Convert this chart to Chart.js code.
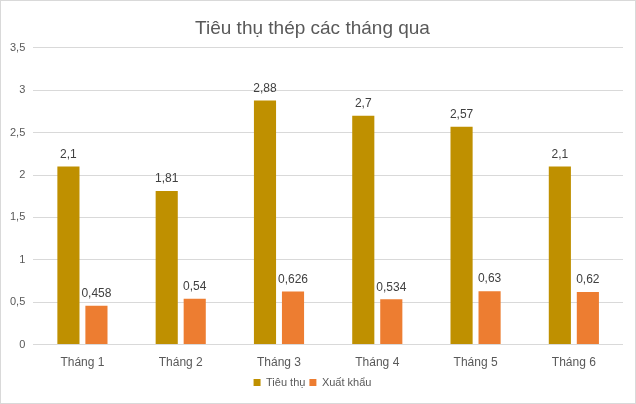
<!DOCTYPE html>
<html>
<head>
<meta charset="utf-8">
<script src="https://cdn.jsdelivr.net/npm/chart.js@4.4.0/dist/chart.umd.min.js"></script>
<style>
    html, body { margin: 0; padding: 0; background: #fff; }
    .wrap { width: 636px; height: 404px; box-sizing: border-box; border: 1px solid #d9d9d9; }
</style>
</head>
<body>
<div class="wrap"><canvas id="steelChart" width="634" height="402"></canvas></div>
<script>
// Dữ liệu biểu đồ
const months = ['Tháng 1', 'Tháng 2', 'Tháng 3', 'Tháng 4', 'Tháng 5', 'Tháng 6'];
const tieuThu = [2.1, 1.81, 2.88, 2.7, 2.57, 2.1];
const xuatKhau = [0.458, 0.54, 0.626, 0.534, 0.63, 0.62];
const yTicks = [0, 0.5, 1, 1.5, 2, 2.5, 3, 3.5];

const toVN = v => String(v).replace('.', ',');

// Simple value labels above bars (no datalabels plugin available)
const barLabels = {
    id: 'barLabels',
    afterDatasetsDraw(chart) {
        const ctx = chart.ctx;
        ctx.save();
        ctx.font = "12px 'Liberation Sans', Arial, sans-serif";
        ctx.fillStyle = '#404040';
        ctx.textAlign = 'center';
        ctx.textBaseline = 'bottom';
        chart.data.datasets.forEach((ds, i) => {
            chart.getDatasetMeta(i).data.forEach((bar, j) => {
                ctx.fillText(toVN(ds.data[j]), bar.x, bar.y - 6);
            });
        });
        ctx.restore();
    }
};

new Chart(document.getElementById('steelChart'), {
    type: 'bar',
    data: {
        labels: months,
        datasets: [
            { label: 'Tiêu thụ', data: tieuThu, backgroundColor: '#bf9000' },
            { label: 'Xuất khẩu', data: xuatKhau, backgroundColor: '#ed7d31' }
        ]
    },
    options: {
        responsive: false,
        animation: false,
        layout: { padding: { left: 1, right: 12, top: 0, bottom: 5 } },
        datasets: { bar: { barPercentage: 0.79, categoryPercentage: 0.57 } },
        plugins: {
            title: {
                display: true,
                text: 'Tiêu thụ thép các tháng qua',
                color: '#595959',
                font: { family: "'Liberation Sans', Arial, sans-serif", size: 19, weight: 'normal' },
                padding: { top: 16, bottom: 8 }
            },
            legend: {
                position: 'bottom',
                labels: {
                    boxWidth: 7, boxHeight: 7, padding: 4,
                    color: '#595959',
                    font: { family: "'Liberation Sans', Arial, sans-serif", size: 11 }
                }
            },
            tooltip: { enabled: false }
        },
        scales: {
            x: {
                grid: { display: false },
                border: { display: false },
                ticks: { color: '#595959', font: { family: "'Liberation Sans', Arial, sans-serif", size: 12 }, padding: 3 }
            },
            y: {
                min: 0, max: 3.5,
                afterBuildTicks: axis => { axis.ticks = yTicks.map(v => ({ value: v })); },
                grid: { color: '#d9d9d9', drawTicks: false },
                border: { display: false },
                ticks: { color: '#595959', font: { family: "'Liberation Sans', Arial, sans-serif", size: 11 }, padding: 8, callback: v => toVN(v) }
            }
        }
    },
    plugins: [barLabels]
});
</script>
</body>
</html>
